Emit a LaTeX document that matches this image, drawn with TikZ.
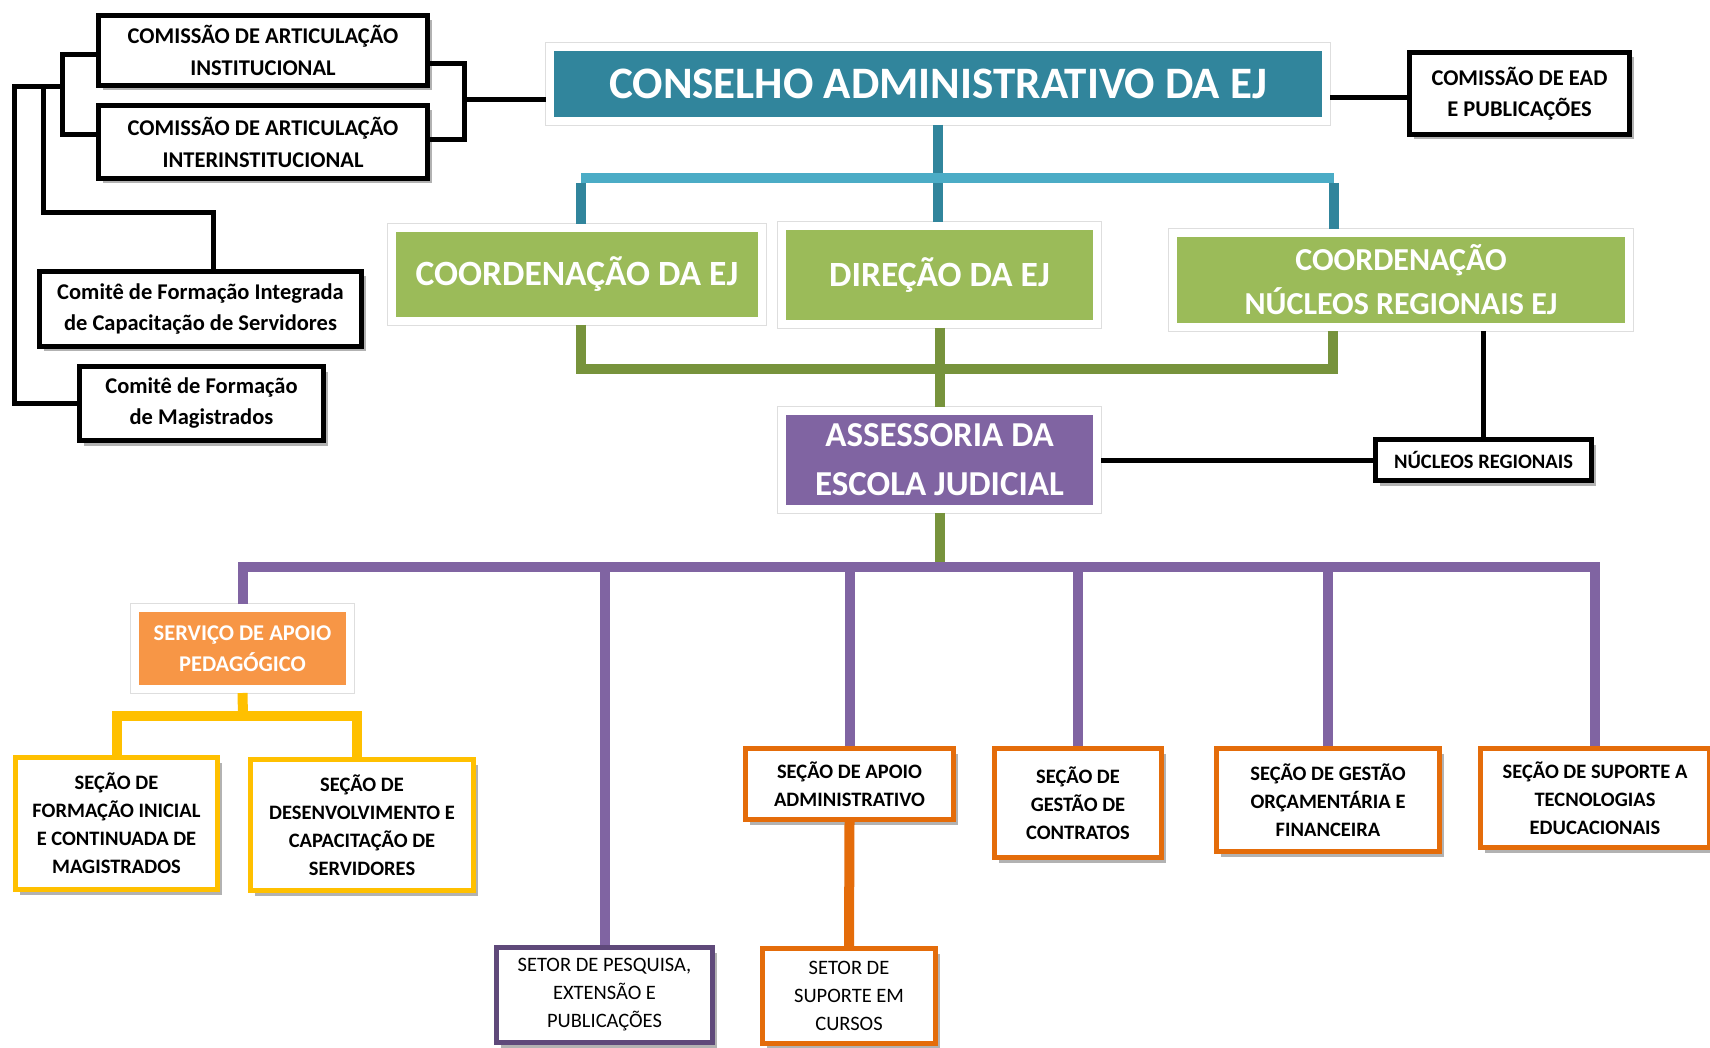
\documentclass[tikz,border=0pt]{standalone}
\usepackage{fontspec}
\setmainfont{Carlito}
\usetikzlibrary{shadows}
\definecolor{tealD}{HTML}{31859C}
\definecolor{tealL}{HTML}{4BACC6}
\definecolor{grnF}{HTML}{9BBB59}
\definecolor{grnL}{HTML}{77933C}
\definecolor{purF}{HTML}{8064A2}
\definecolor{purD}{HTML}{5F497A}
\definecolor{orgF}{HTML}{F79646}
\definecolor{orgD}{HTML}{E46C0A}
\definecolor{yel}{HTML}{FFC000}
\newcommand{\fsz}[2]{\fontsize{#1}{#2}\selectfont}
\begin{document}
\begin{tikzpicture}[x=1pt,y=-1pt,
 cbox/.style={draw=white, line width=8pt, inner sep=0pt, text=white, align=center,
   preaction={draw=black!13, line width=10pt},
   drop shadow={shadow xshift=2pt, shadow yshift=-3pt, opacity=0.22, fill=black}},
 bbox/.style={draw=#1, line width=5pt, fill=white, inner sep=0pt, align=center, text=black,
   drop shadow={shadow xshift=4pt, shadow yshift=-5pt, opacity=0.3, fill=black}},
 bbox/.default=black,
 conn/.style={line width=10pt},
 bconn/.style={line width=5pt, draw=black},
 ftb/.style={font=\bfseries\fsz{22.5}{32}},
 fsm/.style={font=\bfseries\fsz{20.5}{28}},
 fsr/.style={font=\fsz{20.5}{28}},
]
\fill[white] (0,0) rectangle (1710,1048);
\useasboundingbox (0,0) rectangle (1710,1048);

% colored boxes
\node[cbox, fill=tealD, minimum width=776pt, minimum height=74pt, font=\bfseries\fsz{45}{50}] (T) at (938,84) {CONSELHO ADMINISTRATIVO DA EJ};
\node[cbox, fill=grnF, minimum width=370pt, minimum height=93pt, font=\bfseries\fsz{35.5}{40}] (CE) at (577,274.5) {COORDENAÇÃO DA EJ};
\node[cbox, fill=grnF, minimum width=315pt, minimum height=98pt, font=\bfseries\fsz{35.5}{40}] (DE) at (939.5,275) {DIREÇÃO DA EJ};
\node[cbox, fill=grnF, minimum width=456pt, minimum height=94pt, font=\bfseries\fsz{32}{44}] (CNR) at (1401,280) {\raisebox{-4pt}{COORDENAÇÃO}\\\raisebox{-4pt}{NÚCLEOS REGIONAIS EJ}};
\node[cbox, fill=purF, minimum width=315pt, minimum height=98pt, font=\bfseries\fsz{35}{49}] (AS) at (939.5,460) {ASSESSORIA DA\\ESCOLA JUDICIAL};
\node[cbox, fill=orgF, minimum width=215pt, minimum height=81pt, font=\bfseries\fsz{22.5}{31}] (SP) at (242.5,648.5) {SERVIÇO DE APOIO\\PEDAGÓGICO};

% black boxes
\node[bbox, ftb, minimum width=329pt, minimum height=70pt] (A) at (263,50.5) {COMISSÃO DE ARTICULAÇÃO\\INSTITUCIONAL};
\node[bbox, ftb, minimum width=329pt, minimum height=73pt] (B) at (263,142) {COMISSÃO DE ARTICULAÇÃO\\INTERINSTITUCIONAL};
\node[bbox, font=\bfseries\fsz{22.5}{31}, minimum width=322pt, minimum height=75pt] (C) at (200.5,309) {Comitê de Formação Integrada\\de Capacitação de Servidores};
\node[bbox, font=\bfseries\fsz{22.5}{31}, minimum width=244pt, minimum height=74pt] (D) at (201.5,403.5) {Comitê de Formação\\de Magistrados};
\node[bbox, font=\bfseries\fsz{22.5}{31}, minimum width=220pt, minimum height=82pt] (E) at (1519.5,93.5) {COMISSÃO DE EAD\\E PUBLICAÇÕES};
\node[bbox, font=\bfseries\fsz{20.5}{28}, minimum width=216pt, minimum height=41pt] (N) at (1483.5,460) {NÚCLEOS REGIONAIS};

% lower boxes
\node[bbox=yel, fsm, minimum width=202pt, minimum height=132pt] (SF1) at (116.5,823.5) {SEÇÃO DE\\FORMAÇÃO INICIAL\\E CONTINUADA DE\\MAGISTRADOS};
\node[bbox=yel, fsm, minimum width=223pt, minimum height=131pt] (SF2) at (362,825) {SEÇÃO DE\\DESENVOLVIMENTO E\\CAPACITAÇÃO DE\\SERVIDORES};
\node[bbox=purD, fsr, minimum width=216pt, minimum height=95pt] (PE) at (604.5,995) {SETOR DE PESQUISA,\\EXTENSÃO E\\PUBLICAÇÕES};
\node[bbox=orgD, fsm, minimum width=208pt, minimum height=71pt] (AA) at (849.5,784) {SEÇÃO DE APOIO\\ADMINISTRATIVO};
\node[bbox=orgD, fsr, minimum width=173pt, minimum height=95pt] (SC) at (849,996) {SETOR DE\\SUPORTE EM\\CURSOS};
\node[bbox=orgD, fsm, minimum width=167pt, minimum height=109pt] (GC) at (1078,803) {SEÇÃO DE\\GESTÃO DE\\CONTRATOS};
\node[bbox=orgD, fsm, minimum width=223pt, minimum height=103pt] (GO) at (1328,800) {SEÇÃO DE GESTÃO\\ORÇAMENTÁRIA E\\FINANCEIRA};
\node[bbox=orgD, fsm, minimum width=229pt, minimum height=99pt] (ST) at (1595,798) {SEÇÃO DE SUPORTE A\\TECNOLOGIAS\\EDUCACIONAIS};

% black connectors
\draw[bconn] ([yshift=-13.5pt]A.east) -- ++(34,0) |- ([yshift=2pt]B.east);
\coordinate (bR) at (464,100);
\draw[bconn] (bR) -- (bR -| T.west);
\draw[bconn] ([yshift=-4.5pt]A.west) -- ++(-34,0) |- ([yshift=7pt]B.west);
\coordinate (tk) at (62,87);
\draw[bconn] (tk) -- (14,87) |- (D.west);
\draw[bconn] (43,87) -- (43,213) -| ([xshift=13pt]C.north);
\coordinate (eL) at ([yshift=-4pt]E.west);
\draw[bconn] (eL) -- (eL -| T.east);
\draw[bconn] (N.north) -- (N.north |- CNR.south);
\draw[bconn] (AS.east) -- (N.west);

% teal
\coordinate (tL) at (581,178);
\coordinate (tR) at (1334,178);
\draw[conn, tealD] (T.south) -- (T.south |- DE.north);
\draw[conn, tealD] ([yshift=-5pt]tL) -- (tL |- CE.north);
\draw[conn, tealD] ([yshift=-5pt]tR) -- (tR |- CNR.north);
\draw[conn, tealL] (tL) -- (tR);

% green
\coordinate (gL) at (581,369);
\coordinate (gR) at (1333,369);
\draw[conn, grnL, line join=miter] (gL |- CE.south) -- (gL) -- (gR) -- (gR |- CNR.south);
\draw[conn, grnL] (DE.south) -- (AS.north);
\coordinate (pb) at (0,567);
\draw[conn, grnL] (AS.south) -- (AS.south |- pb);

% purple
\draw[conn, purF, line join=miter] (SP.north) |- (ST.north |- pb) -- (ST.north);
\foreach \n in {PE,AA,GC,GO} \draw[conn, purF] (\n.north |- pb) -- (\n.north);

% orange
\draw[conn, orgD] (AA.south) -- (SC.north);

% yellow
\coordinate (yc) at (243,716);
\draw[conn, yel] (SP.south) -- (yc);
\draw[conn, yel, line join=miter] (SF1.north) |- (yc) -| ([xshift=-5pt]SF2.north);
\end{tikzpicture}
\end{document}
